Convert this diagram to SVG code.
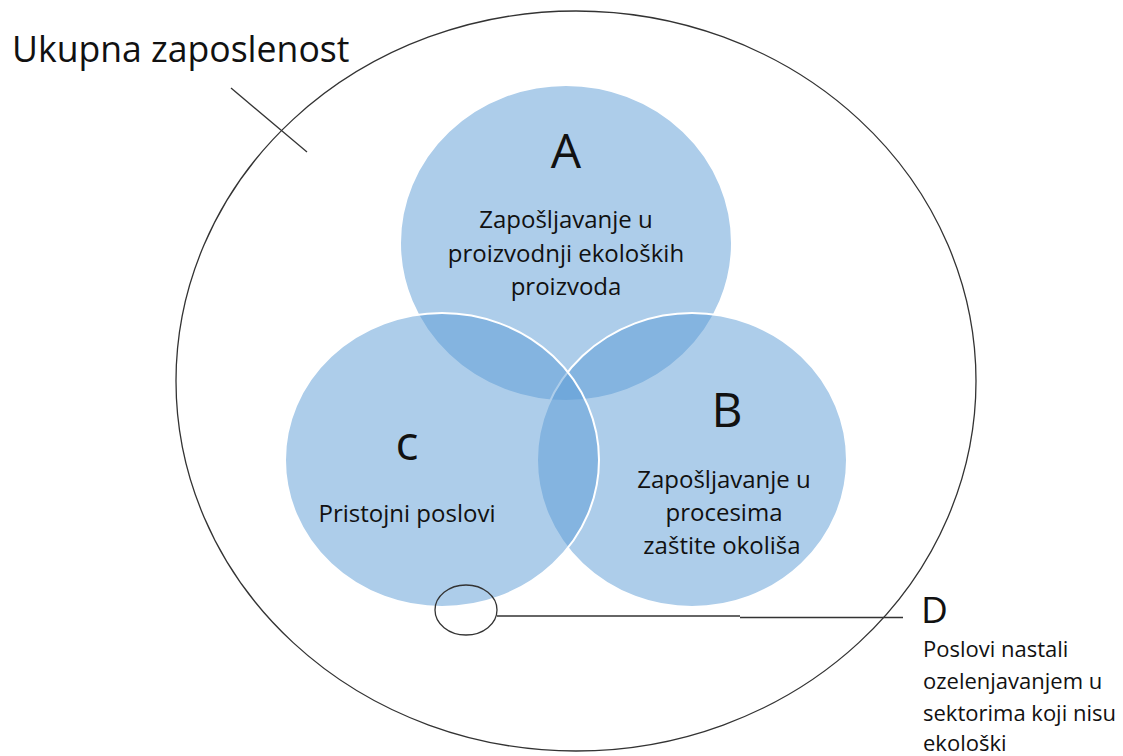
<svg xmlns="http://www.w3.org/2000/svg" width="1123" height="756" viewBox="0 0 1123 756">
<style>
  text { font-family: "Open Sans", "Noto Sans", "DejaVu Sans", sans-serif; fill: #111; }
  .venn { fill: #5B9BD5; fill-opacity: 0.5; stroke: #FFFFFF; stroke-width: 2; }
  .line { fill: none; stroke: #333; stroke-width: 1.3; }
  .big { font-size: 35.6px; }
  .letter { font-size: 48px; text-anchor: middle; }
  .lbl { font-size: 24px; text-anchor: middle; }
  .side { font-size: 22px; }
</style>
<rect width="1123" height="756" fill="#FFFFFF"/>
<g id="total">
  <ellipse cx="576" cy="381" rx="400" ry="370" class="line" stroke-width="1.5"/>
  <text x="12" y="62" class="big">Ukupna zaposlenost</text>
</g>
<g id="nodeA">
  <ellipse cx="566" cy="243" rx="166" ry="158" class="venn"/>
  <text x="566" y="168" class="letter">A</text>
  <text x="566" y="228" class="lbl">Zapošljavanje u</text>
  <text x="566" y="262" class="lbl">proizvodnji ekoloških</text>
  <text x="566" y="295" class="lbl">proizvoda</text>
</g>
<g id="nodeB">
  <ellipse cx="692" cy="460" rx="155" ry="147" class="venn"/>
  <text x="727" y="427" class="letter">B</text>
  <text x="724" y="488" class="lbl">Zapošljavanje u</text>
  <text x="724" y="521" class="lbl">procesima</text>
  <text x="722" y="554" class="lbl">zaštite okoliša</text>
</g>
<g id="nodeC">
  <ellipse cx="442" cy="460" rx="157" ry="147" class="venn"/>
  <text x="407" y="460" class="letter">c</text>
  <text x="407" y="522" class="lbl">Pristojni poslovi</text>
</g>
<g id="nodeD">
  <ellipse cx="466" cy="610" rx="31" ry="25" class="line"/>
  <text x="921" y="623" style="font-size:37px">D</text>
  <text x="923" y="657" class="side">Poslovi nastali</text>
  <text x="923" y="689" class="side">ozelenjavanjem u</text>
  <text x="923" y="721" class="side">sektorima koji nisu</text>
  <text x="923" y="751" class="side">ekološki</text>
</g>
<g id="connectors">
  <line x1="231" y1="88" x2="307" y2="152" class="line" stroke-width="1"/>
  <line x1="497" y1="616" x2="740" y2="616" class="line"/>
  <line x1="740" y1="617.5" x2="903" y2="617.5" class="line"/>
</g>
</svg>
